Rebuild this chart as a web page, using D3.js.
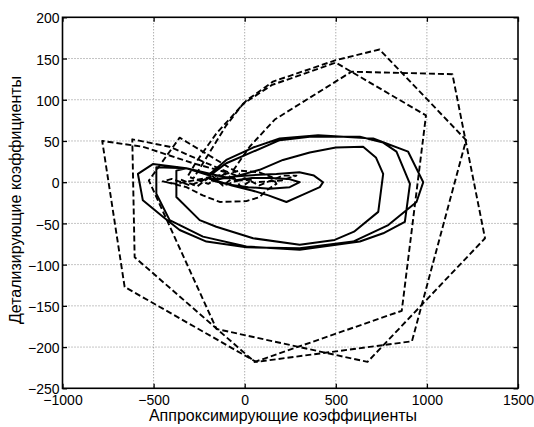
<!DOCTYPE html>
<html>
<head>
<meta charset="utf-8">
<script src="https://cdn.jsdelivr.net/npm/d3@7"></script>
<style>
  html, body { margin: 0; padding: 0; background: #fff; }
  svg { display: block; font-family: "Liberation Sans", Arial, sans-serif; }
</style>
</head>
<body>
<div id="chart"></div>
<script>
// Подписи осей и деления
const xTitle = "Аппроксимирующие коэффициенты";
const yTitle = "Детализирующие коэффициенты";
const xTicks = [-1000, -500, 0, 500, 1000, 1500];
const yTicks = [-250, -200, -150, -100, -50, 0, 50, 100, 150, 200];

// Сплошная траектория: [аппроксимирующий, детализирующий]
const solidTrace = [
  [-60, 2], [40, 5], [140, 5], [240, 4], [302, 0], [247, -6], [137, -8], [20, -6], [-80, -3],
  [-180, 2], [-60, 7], [80, 9], [174, 10], [300, 12], [380, 8], [430, 0], [412, -6], [320, -15],
  [229, -24], [130, -16], [40, -10], [-70, -4],
  [-190, 4], [-82, 5], [82, 15], [210, 27], [357, 36], [500, 42], [650, 43], [720, 30], [760, 10],
  [733, -36], [600, -60], [494, -70], [302, -76], [46, -68], [-156, -54], [-247, -46], [-375, -18],
  [-375, 14], [-320, 17], [-192, 8],
  [-101, 23], [46, 37], [192, 51], [357, 55], [632, 55], [760, 48], [833, 37], [907, -2], [879, -48],
  [760, -62], [632, -72], [302, -82], [9, -78], [-229, -66], [-412, -46], [-485, -14], [-485, 18],
  [-320, 17], [-192, 10],
  [-101, 27], [46, 42], [192, 53], [403, 57], [705, 53], [897, 37], [980, 0], [943, -24], [788, -52],
  [595, -72], [302, -80], [9, -79], [-210, -72], [-357, -58], [-449, -42], [-559, -22], [-586, 10],
  [-504, 22], [-320, 17], [-150, 8], [-60, 4]
];

// Штриховые траектории
const dashedTrace1 = [
  [-64, 14], [27, 43], [165, 76], [586, 134], [1140, 131], [1319, -68], [674, -218], [-155, -178],
  [-526, 2], [-357, 54], [-27, 10]
];
const dashedTrace2 = [
  [-101, 12], [-284, 23], [-559, 43], [-782, 50], [-659, -127], [63, -218], [918, -193], [1215, 51],
  [740, 161], [500, 148], [155, 122], [9, 99], [-156, 59], [-265, 25], [-310, 8]
];
const dashedTrace3 = [
  [-46, 8], [-229, 25], [-412, 43], [-617, 52], [-604, -91], [55, -218], [862, -156], [995, 81],
  [500, 145], [150, 118], [-9, 95], [-101, 69], [-229, 23], [-280, 5]
];
const dashedTrace4 = [
  [-430, 0], [-320, -6], [-230, -16], [-137, -24], [9, -23], [82, -18], [119, -10], [174, -2],
  [150, 6], [80, 12], [-27, 14], [-150, 8], [-260, 3], [-380, -2], [-450, 1], [-400, 4],
  [-300, -4], [-200, 5], [-100, -3], [0, 5], [80, -4], [210, 8], [284, 8], [200, 2], [60, 0]
];
const dashedTrace5 = [
  [-350, 3], [-260, -5], [-180, 8], [-120, -4], [-60, 6], [-20, -6], [40, 3], [-40, 2],
  [-110, 10], [-200, -2], [-300, 6]
];

const W = 534, H = 427;
const plotLeft = 62.5, plotRight = 518, plotTop = 17.3, plotBottom = 388.3;

const svg = d3.select("#chart").append("svg")
  .attr("width", W)
  .attr("height", H);

const x = d3.scaleLinear().domain([-1000, 1500]).range([plotLeft, plotRight]);
const y = d3.scaleLinear().domain([-250, 200]).range([plotBottom, plotTop]);

//Сетка
const grid = svg.append("g")
  .attr("stroke", "#8a8a8a")
  .attr("stroke-width", 1)
  .attr("stroke-dasharray", "1,2");
grid.selectAll(".gx").data(xTicks.slice(1, -1)).enter().append("line")
  .attr("x1", d => x(d)).attr("x2", d => x(d))
  .attr("y1", plotTop).attr("y2", plotBottom);
grid.selectAll(".gy").data(yTicks.slice(1, -1)).enter().append("line")
  .attr("x1", plotLeft).attr("x2", plotRight)
  .attr("y1", d => y(d)).attr("y2", d => y(d));

//Линии траекторий
const line = d3.line()
  .x(d => x(d[0]))
  .y(d => y(d[1]));

const plot = svg.append("g")
  .attr("fill", "none")
  .attr("stroke", "#000")
  .attr("stroke-linejoin", "round");

[dashedTrace1, dashedTrace2, dashedTrace3, dashedTrace4, dashedTrace5].forEach(tr => {
  plot.append("path")
    .datum(tr)
    .attr("stroke-width", 1.9)
    .attr("stroke-dasharray", "6,3")
    .attr("d", line);
});

plot.append("path")
  .datum(solidTrace)
  .attr("stroke-width", 2)
  .attr("d", line);

//Оси с делениями внутрь
const tick = 4.5;
const fmt = d3.format("d");
function styleAxis(g) {
  g.select(".domain").remove();
  g.selectAll(".tick line").attr("stroke", "#000").attr("stroke-width", 1.3);
  g.selectAll("text").attr("font-size", 14).attr("fill", "#000")
    .attr("font-family", "'Liberation Sans', Arial, sans-serif");
}

svg.append("g")
  .attr("transform", `translate(0,${plotBottom})`)
  .call(d3.axisBottom(x).tickValues(xTicks).tickSize(-tick).tickPadding(7).tickFormat(fmt))
  .call(styleAxis);
svg.append("g")
  .attr("transform", `translate(0,${plotTop})`)
  .call(d3.axisTop(x).tickValues(xTicks).tickSize(-tick).tickFormat(""))
  .call(styleAxis);
svg.append("g")
  .attr("transform", `translate(${plotLeft},0)`)
  .call(d3.axisLeft(y).tickValues(yTicks).tickSize(-tick).tickPadding(3).tickFormat(fmt))
  .call(styleAxis)
  .selectAll("text").attr("dy", "0.4em");
svg.append("g")
  .attr("transform", `translate(${plotRight},0)`)
  .call(d3.axisRight(y).tickValues(yTicks).tickSize(-tick).tickFormat(""))
  .call(styleAxis);

//Рамка
svg.append("rect")
  .attr("x", plotLeft).attr("y", plotTop)
  .attr("width", plotRight - plotLeft).attr("height", plotBottom - plotTop)
  .attr("fill", "none")
  .attr("stroke", "#000")
  .attr("stroke-width", 1.6);

//Подписи осей
svg.append("text")
  .attr("x", 283).attr("y", 420.5)
  .attr("text-anchor", "middle")
  .attr("font-size", 16)
  .text(xTitle);
svg.append("text")
  .attr("transform", "translate(21,200) rotate(-90)")
  .attr("text-anchor", "middle")
  .attr("font-size", 16)
  .text(yTitle);
</script>
</body>
</html>
